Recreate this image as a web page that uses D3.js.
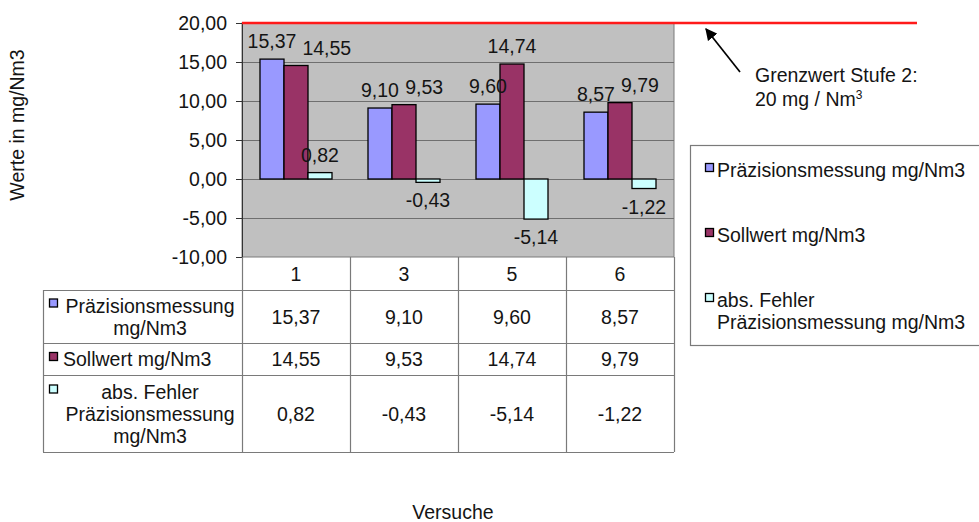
<!DOCTYPE html>
<html>
<head>
<meta charset="utf-8">
<script src="https://cdn.jsdelivr.net/npm/d3@7"></script>
<style>
  html, body { margin: 0; padding: 0; background: #fff; }
  svg { display: block; font-family: "Liberation Sans", Arial, sans-serif; }
</style>
</head>
<body>
<svg id="chart" width="979" height="522"></svg>
<script>
// Versuche (trials) and the measured values in mg/Nm3
const versuche = ["1", "3", "5", "6"];
const praezisionsmessung = [15.37, 9.10, 9.60, 8.57];
const sollwert = [14.55, 9.53, 14.74, 9.79];
const absFehler = [0.82, -0.43, -5.14, -1.22];

const seriesNames = ["Präzisionsmessung mg/Nm3", "Sollwert mg/Nm3", "abs. Fehler Präzisionsmessung mg/Nm3"];
const tableRowLabels = [["Präzisionsmessung", "mg/Nm3"], ["Sollwert mg/Nm3"], ["abs. Fehler", "Präzisionsmessung", "mg/Nm3"]];
const legendLabels = [["Präzisionsmessung mg/Nm3"], ["Sollwert mg/Nm3"], ["abs. Fehler", "Präzisionsmessung mg/Nm3"]];
const yTicks = [-10, -5, 0, 5, 10, 15, 20];
const grenzwert = 20;
const grenzwertText = ["Grenzwert Stufe 2:", "20 mg / Nm"];

const seriesValues = [praezisionsmessung, sollwert, absFehler];
const colors = ["#9999ff", "#993366", "#ccffff"];

const FONT = 19.5;
const TEXT = "#141414";
const LINE = "#7a7a7a";

const de = d3.formatLocale({ decimal: ",", thousands: ".", grouping: [3], currency: ["", " €"], minus: "-" });
const fmt = de.format(".2f");

const svg = d3.select("#chart");

// plot area
const plot = { left: 242, right: 674, top: 23, bottom: 257 };
const x = d3.scaleBand().domain(versuche).range([plot.left, plot.right]).paddingInner(0).paddingOuter(0);
const xs = d3.scaleBand().domain(d3.range(seriesNames.length)).range([18, x.bandwidth() - 18]);
const y = d3.scaleLinear().domain([-10, 20]).range([plot.bottom, plot.top]);

svg.append("rect")
  .attr("x", plot.left).attr("y", plot.top)
  .attr("width", plot.right - plot.left).attr("height", plot.bottom - plot.top)
  .attr("fill", "#c0c0c0").attr("stroke", LINE).attr("stroke-width", 1);

// horizontal gridlines
svg.append("g").selectAll("line")
  .data(yTicks.filter(t => t > -10 && t < 20))
  .join("line")
  .attr("x1", plot.left).attr("x2", plot.right)
  .attr("y1", d => Math.round(y(d)) + 0.5).attr("y2", d => Math.round(y(d)) + 0.5)
  .attr("stroke", "#6f6f6f").attr("stroke-width", 1.2);

// y axis
const yAxis = d3.axisLeft(y).tickValues(yTicks).tickFormat(fmt).tickSize(6).tickPadding(9);
const gy = svg.append("g").attr("transform", `translate(${plot.left},0)`).call(yAxis);
gy.select(".domain").attr("stroke", "#333");
gy.selectAll(".tick line").attr("stroke", "#333");
gy.selectAll(".tick text").attr("font-size", FONT).attr("fill", TEXT)
  .attr("font-family", "Liberation Sans, Arial, sans-serif");

// bars
const groups = svg.append("g").selectAll("g")
  .data(versuche)
  .join("g")
  .attr("transform", d => `translate(${x(d)},0)`);

groups.selectAll("rect")
  .data((d, i) => seriesValues.map((vals, s) => ({ s, v: vals[i] })))
  .join("rect")
  .attr("x", d => xs(d.s))
  .attr("width", xs.bandwidth())
  .attr("y", d => y(Math.max(0, d.v)))
  .attr("height", d => Math.abs(y(d.v) - y(0)))
  .attr("fill", d => colors[d.s])
  .attr("stroke", "#000").attr("stroke-width", 1.3);

// value labels, pushed apart when neighbours collide
groups.each(function (cat, i) {
  const g = d3.select(this);
  const labels = seriesValues.map((vals, s) => {
    const v = vals[i];
    const end = y(v);
    const cy = v >= 0 ? end - 18 : end + 18;
    const t = g.append("text")
      .attr("x", xs(s) + xs.bandwidth() / 2)
      .attr("y", cy + 7)
      .attr("text-anchor", "middle")
      .attr("font-size", FONT).attr("fill", TEXT)
      .text(fmt(v));
    return t;
  });
  const boxes = [];
  labels.forEach(t => {
    let b = t.node().getBBox();
    boxes.forEach(p => {
      const vOverlap = b.y < p.y + p.height && p.y < b.y + b.height;
      const hOverlap = b.x < p.x + p.width + 6 && p.x < b.x + b.width;
      if (vOverlap && hOverlap) {
        const shift = p.x + p.width + 6 - b.x;
        t.attr("x", +t.attr("x") + shift);
        b = t.node().getBBox();
      }
    });
    boxes.push(b);
  });
});

// limit line at 20 mg/Nm3
svg.append("line")
  .attr("x1", plot.left).attr("x2", 917)
  .attr("y1", y(grenzwert)).attr("y2", y(grenzwert))
  .attr("stroke", "#ff1a1a").attr("stroke-width", 2.6);

// data table below the plot
const table = { left: 43, rows: [257, 290, 343, 375, 452] };
const tg = svg.append("g");
const hl = (x1, x2, yy) => tg.append("line").attr("x1", x1).attr("x2", x2)
  .attr("y1", yy + 0.5).attr("y2", yy + 0.5).attr("stroke", LINE).attr("stroke-width", 1.2);
const vl = (xx, y1, y2) => tg.append("line").attr("x1", xx + 0.5).attr("x2", xx + 0.5)
  .attr("y1", y1).attr("y2", y2).attr("stroke", LINE).attr("stroke-width", 1.2);

table.rows.slice(1).forEach(r => hl(table.left, plot.right, r));
vl(table.left, table.rows[1], table.rows[4]);
vl(plot.left, plot.bottom, table.rows[4]);
versuche.forEach(c => vl(x(c) + x.bandwidth(), plot.bottom, table.rows[4]));

// header row: Versuch numbers
tg.selectAll("text.cat").data(versuche).join("text")
  .attr("class", "cat")
  .attr("x", d => x(d) + x.bandwidth() / 2)
  .attr("y", (table.rows[0] + table.rows[1]) / 2 + 7)
  .attr("text-anchor", "middle").attr("font-size", FONT).attr("fill", TEXT)
  .text(d => d);

// value rows
seriesValues.forEach((vals, s) => {
  const top = table.rows[s + 1], bot = table.rows[s + 2];
  const cy = (top + bot) / 2;
  vals.forEach((v, i) => {
    tg.append("text")
      .attr("x", x(versuche[i]) + x.bandwidth() / 2)
      .attr("y", cy + 7)
      .attr("text-anchor", "middle").attr("font-size", FONT).attr("fill", TEXT)
      .text(fmt(v));
  });
  const lines = tableRowLabels[s];
  const lh = 22;
  lines.forEach((ln, k) => {
    const base = cy + 7 + (k - (lines.length - 1) / 2) * lh;
    const single = lines.length === 1;
    tg.append("text")
      .attr("x", single ? 63 : 150)
      .attr("y", base)
      .attr("text-anchor", single ? "start" : "middle")
      .attr("font-size", FONT).attr("fill", TEXT)
      .text(ln);
    if (k === 0) {
      tg.append("rect")
        .attr("x", 49.5).attr("y", base - 13.5)
        .attr("width", 8).attr("height", 8)
        .attr("fill", colors[s]).attr("stroke", "#000").attr("stroke-width", 1.3);
    }
  });
});

// legend
const lg = svg.append("g");
lg.append("rect").attr("x", 690.5).attr("y", 145.5).attr("width", 300).attr("height", 200)
  .attr("fill", "#fff").attr("stroke", LINE).attr("stroke-width", 1.2);
const legendBase = [177, 242, 307];
legendLabels.forEach((lines, s) => {
  lines.forEach((ln, k) => {
    lg.append("text")
      .attr("x", 717).attr("y", legendBase[s] + k * 22)
      .attr("font-size", FONT).attr("fill", TEXT)
      .text(ln);
  });
  lg.append("rect")
    .attr("x", 705.5).attr("y", legendBase[s] - 13.5)
    .attr("width", 8).attr("height", 8)
    .attr("fill", colors[s]).attr("stroke", "#000").attr("stroke-width", 1.3);
});

// annotation arrow and text for the limit value
const defs = svg.append("defs");
defs.append("marker").attr("id", "arrowHead")
  .attr("viewBox", "0 0 10 10").attr("refX", 9).attr("refY", 5)
  .attr("markerWidth", 7).attr("markerHeight", 7).attr("orient", "auto")
  .append("path").attr("d", "M0,0 L10,5 L0,10 Z").attr("fill", "#000");
svg.append("line")
  .attr("x1", 740).attr("y1", 72).attr("x2", 706).attr("y2", 29)
  .attr("stroke", "#000").attr("stroke-width", 1.7)
  .attr("marker-end", "url(#arrowHead)");

svg.append("text").attr("x", 755).attr("y", 82)
  .attr("font-size", FONT).attr("fill", TEXT).text(grenzwertText[0]);
const t2 = svg.append("text").attr("x", 755).attr("y", 106)
  .attr("font-size", FONT).attr("fill", TEXT);
t2.append("tspan").text(grenzwertText[1]);
t2.append("tspan").attr("font-size", 12).attr("dy", -7).text("3");

// axis titles
svg.append("text")
  .attr("transform", "translate(24,125) rotate(-90)")
  .attr("text-anchor", "middle").attr("font-size", FONT).attr("fill", TEXT)
  .text("Werte in mg/Nm3");
svg.append("text")
  .attr("x", 453).attr("y", 519)
  .attr("text-anchor", "middle").attr("font-size", FONT).attr("fill", TEXT)
  .text("Versuche");
</script>
</body>
</html>
